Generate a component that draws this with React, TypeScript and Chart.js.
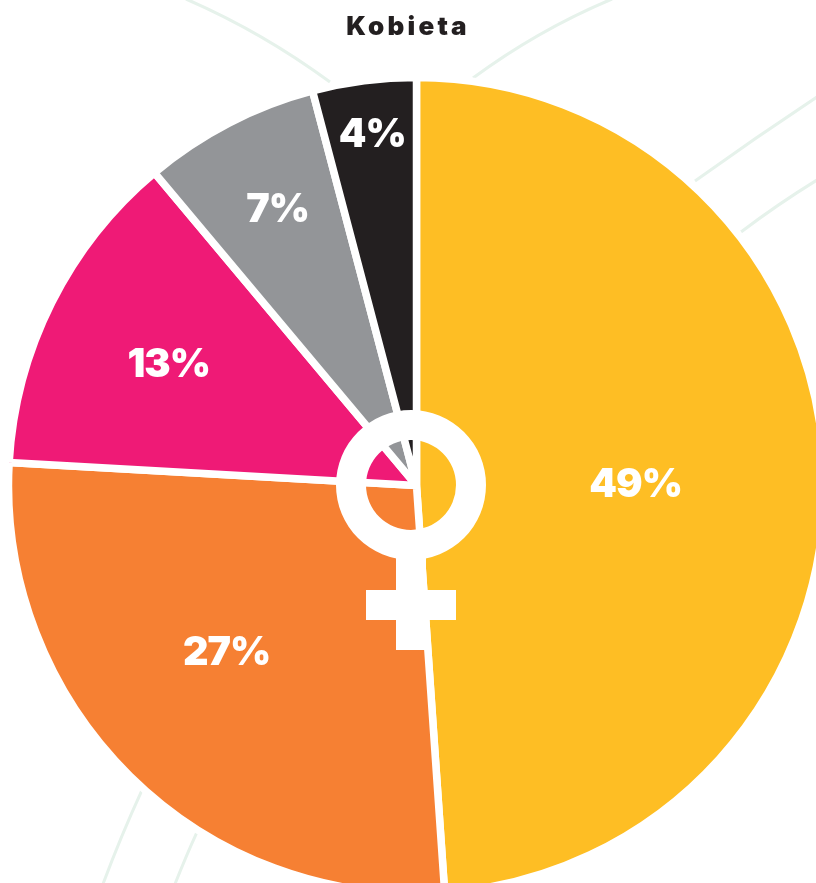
import React, { useEffect, useRef } from "react";
import { Chart, registerables } from "chart.js";

Chart.register(...registerables);

const categories = ["A", "B", "C", "D", "E"];
const values = [48.9, 27, 13, 7, 4.1];
const colors = ["#FEBE24", "#F68033", "#EF1A76", "#939598", "#231F20"];
const chartTitle = "Kobieta";
// placement of each value label: fraction of the outer radius, and turn (degrees) away from the slice bisector
const labelRadial = [0.537, 0.619, 0.676, 0.759, 0.868];
const labelTurn = [1.6, 4.1, -0.6, 0.7, 0.2];

const FONT = "Inter, sans-serif";

const symbolPlugin = {
  id: "decor",
  beforeDatasetsDraw(chart: any) {
    const ctx = chart.ctx;
    ctx.save();
    ctx.strokeStyle = "#E6F2EB";
    ctx.lineWidth = 3;
    const curves = [
      [186, -1, 262, 32, 330, 82],
      [473, 78, 538, 30, 612, -1],
      [695, 181, 755, 138, 817, 97],
      [741, 232, 778, 204, 817, 180],
      [142, 790, 120, 838, 103, 884],
      [197, 832, 186, 856, 175, 884],
    ];
    for (const c of curves) {
      ctx.beginPath();
      ctx.moveTo(c[0], c[1]);
      ctx.quadraticCurveTo(c[2], c[3], c[4], c[5]);
      ctx.stroke();
    }
    ctx.restore();
  },
  afterDatasetsDraw(chart: any) {
    const ctx = chart.ctx;
    const meta = chart.getDatasetMeta(0);
    const cx = meta.data[0].x;
    const cy = meta.data[0].y;
    const R = meta.data[0].outerRadius;

    ctx.save();
    ctx.fillStyle = "#fff";
    const sx = cx - 5.5;
    const sy = cy - 0.5;
    ctx.fillRect(sx - 15, sy + 60, 30, 105);
    ctx.fillRect(sx - 45, sy + 105, 90, 30);
    ctx.beginPath();
    ctx.arc(sx, sy, 75, 0, Math.PI * 2);
    ctx.arc(sx, sy, 45, 0, Math.PI * 2, true);
    ctx.fill("evenodd");

    ctx.textAlign = "center";
    ctx.textBaseline = "middle";
    ctx.font = `900 39.5px ${FONT}`;
    (ctx as any).letterSpacing = "-1px";
    meta.data.forEach((arc: any, i: number) => {
      const mid = (arc.startAngle + arc.endAngle) / 2 + (labelTurn[i] * Math.PI) / 180;
      const r = R * labelRadial[i];
      ctx.fillText(`${Math.round(values[i])}%`, cx + Math.cos(mid) * r, cy + Math.sin(mid) * r + 1);
    });

    ctx.fillStyle = "#231F20";
    ctx.font = `900 26px ${FONT}`;
    (ctx as any).letterSpacing = "3.2px";
    ctx.fillText(chartTitle, 408, 27);
    ctx.restore();
  },
};

export default function App() {
  const ref = useRef<HTMLCanvasElement>(null);
  useEffect(() => {
    const chart = new Chart(ref.current!, {
      type: "pie",
      data: {
        labels: categories,
        datasets: [
          {
            data: values,
            backgroundColor: colors,
            borderColor: "#ffffff",
            borderWidth: 7.5,
            hoverOffset: 0,
          },
        ],
      },
      options: {
        responsive: false,
        animation: false,
        radius: 408,
        layout: { padding: { left: 17, top: 88, right: 0, bottom: 0 } },
        plugins: { legend: { display: false }, title: { display: false }, tooltip: { enabled: false } },
      } as any,
      plugins: [symbolPlugin],
    });
    return () => chart.destroy();
  }, []);
  return (
    <div style={{ position: "fixed", left: 0, top: 0, width: 816, height: 883, overflow: "hidden", background: "#fff" }}>
      <canvas ref={ref} width={816} height={883} style={{ display: "block" }} />
    </div>
  );
}
